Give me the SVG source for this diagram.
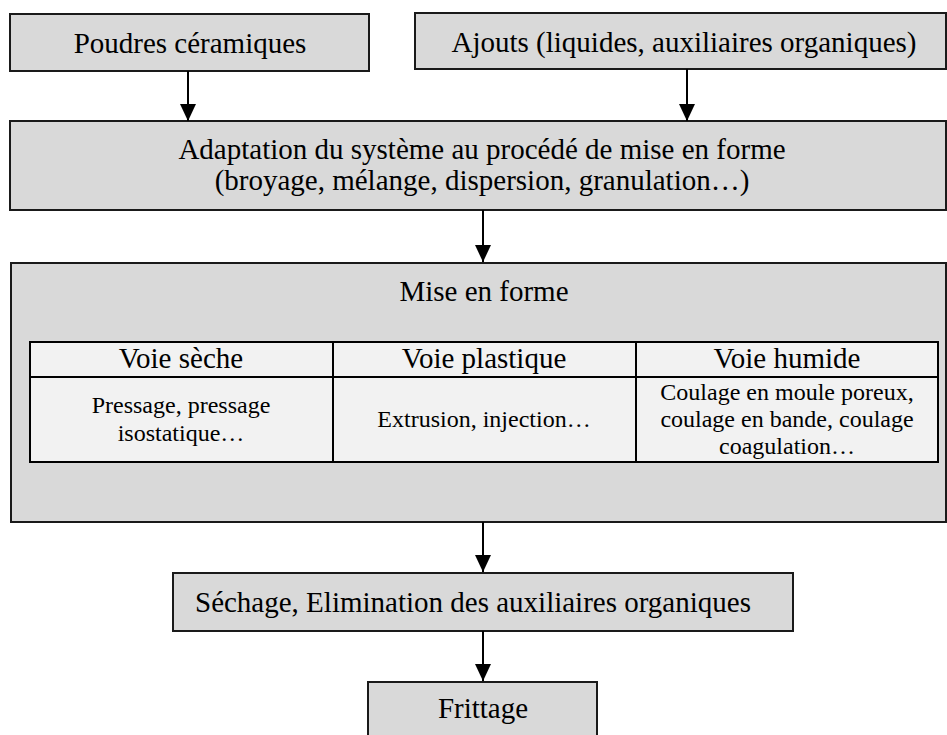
<svg xmlns="http://www.w3.org/2000/svg" width="947" height="735" viewBox="0 0 947 735">
<defs>
<style>
.box{fill:#d9d9d9;stroke:#1a1a1a;stroke-width:2}
.tbl{fill:#f2f2f2;stroke:#000;stroke-width:2}
.ln{stroke:#000;stroke-width:2;fill:none}
.t{font-family:"Liberation Serif","Times New Roman",serif;font-size:29px;fill:#000;text-anchor:middle}
.s{font-family:"Liberation Serif","Times New Roman",serif;font-size:24px;fill:#000;text-anchor:middle}
</style>
<marker id="ah" markerUnits="userSpaceOnUse" markerWidth="17" markerHeight="16" refX="17" refY="8" orient="auto" viewBox="0 0 17 16">
<path d="M0,0 L17,8 L0,16 Z" fill="#000"/>
</marker>
</defs>
<rect width="947" height="735" fill="#fff"/>
<g id="poudres">
<rect class="box" x="10" y="14" width="359" height="57"/>
<text class="t" x="190" y="53">Poudres céramiques</text>
</g>
<g id="ajouts">
<rect class="box" x="415" y="13" width="531" height="56"/>
<text class="t" x="684" y="52">Ajouts (liquides, auxiliaires organiques)</text>
</g>
<g id="adaptation">
<rect class="box" x="10" y="121" width="936" height="89"/>
<text class="t" x="482" y="159">Adaptation du système au procédé de mise en forme</text>
<text class="t" x="482" y="190">(broyage, mélange, dispersion, granulation…)</text>
</g>
<g id="mise-en-forme">
<rect class="box" x="11" y="263" width="935" height="259"/>
<text class="t" x="484" y="301">Mise en forme</text>
<rect class="tbl" x="30" y="342" width="908" height="120"/>
<line class="ln" x1="30" y1="377" x2="938" y2="377"/>
<line class="ln" x1="333" y1="342" x2="333" y2="462"/>
<line class="ln" x1="636" y1="342" x2="636" y2="462"/>
<text class="t" x="181" y="368">Voie sèche</text>
<text class="t" x="484" y="368">Voie plastique</text>
<text class="t" x="787" y="368">Voie humide</text>
<text class="s" x="181" y="413">Pressage, pressage</text>
<text class="s" x="181" y="441">isostatique…</text>
<text class="s" x="484" y="427">Extrusion, injection…</text>
<text class="s" x="787" y="400">Coulage en moule poreux,</text>
<text class="s" x="787" y="427">coulage en bande, coulage</text>
<text class="s" x="787" y="454">coagulation…</text>
</g>
<g id="sechage">
<rect class="box" x="173" y="573" width="620" height="58"/>
<text class="t" x="195" y="612" style="text-anchor:start">Séchage, Elimination des auxiliaires organiques</text>
</g>
<g id="frittage">
<rect class="box" x="368" y="682" width="229" height="70"/>
<text class="t" x="483" y="718">Frittage</text>
</g>
<g id="connectors">
<line class="ln" x1="188" y1="71" x2="188" y2="121" marker-end="url(#ah)"/>
<line class="ln" x1="687" y1="69" x2="687" y2="121" marker-end="url(#ah)"/>
<line class="ln" x1="483" y1="210" x2="483" y2="262" marker-end="url(#ah)"/>
<line class="ln" x1="483" y1="522" x2="483" y2="572" marker-end="url(#ah)"/>
<line class="ln" x1="483" y1="631" x2="483" y2="681" marker-end="url(#ah)"/>
</g>
</svg>
